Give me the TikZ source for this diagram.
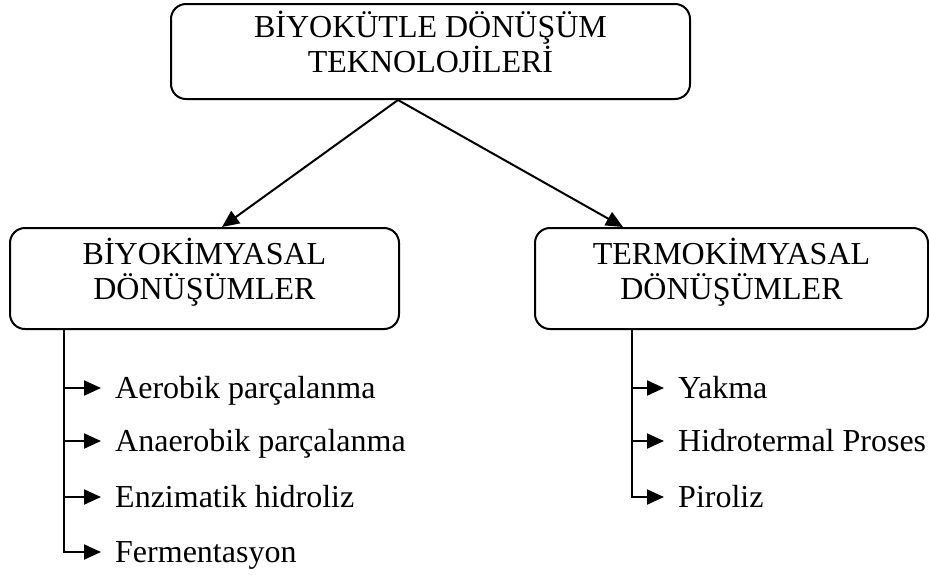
\documentclass[tikz,border=0pt]{standalone}
\usepackage{fontspec}
\setmainfont{Liberation Serif}
\usetikzlibrary{arrows.meta}
\begin{document}
\begin{tikzpicture}[x=1pt,y=-1pt,
    box/.style={draw=black,line width=2pt,rounded corners=15pt,align=center,inner sep=0pt,text height=61pt,text depth=20pt,font=\fontsize{32}{35}\selectfont},
    item/.style={anchor=west,inner ysep=0pt,inner xsep=14pt,text height=21pt,text depth=0pt,font=\fontsize{32}{35}\selectfont},
    link/.style={black,line width=2pt,-{Triangle[length=17pt,width=15pt]}}]
    \useasboundingbox (0,0) rectangle (929,574);
    \node [box,minimum width=519pt,minimum height=95pt] (top) at (430.5,51.5) {BİYOKÜTLE DÖNÜŞÜM\\TEKNOLOJİLERİ};
    \node [box,minimum width=389pt,minimum height=101pt] (bio) at (204.5,278.5) {BİYOKİMYASAL\\DÖNÜŞÜMLER};
    \node [box,minimum width=393pt,minimum height=101pt] (termo) at (731.5,278.5) {TERMOKİMYASAL\\DÖNÜŞÜMLER};
    \draw [link] ([xshift=-32.5pt]top.south) -- ([xshift=17.5pt]bio.north);
    \draw [link] ([xshift=-32.5pt]top.south) -- ([xshift=-108.5pt]termo.north);
    \coordinate (biofoot) at ([xshift=-140.5pt]bio.south);
    \node [item] (aerobik) at (101,388) {Aerobik parçalanma};
    \node [item] (anaerobik) at (101,441) {Anaerobik parçalanma};
    \node [item] (enzim) at (101,497) {Enzimatik hidroliz};
    \node [item] (ferment) at (101,552) {Fermentasyon};
    \draw [link] (biofoot |- aerobik.west) -- (aerobik.west);
    \draw [link] (biofoot |- anaerobik.west) -- (anaerobik.west);
    \draw [link] (biofoot |- enzim.west) -- (enzim.west);
    \draw [link] (biofoot) |- (ferment.west);
    \coordinate (termofoot) at ([xshift=-99.5pt]termo.south);
    \node [item] (yakma) at (664,388) {Yakma};
    \node [item] (hidro) at (664,441) {Hidrotermal Proses};
    \node [item] (piroliz) at (664,497) {Piroliz};
    \draw [link] (termofoot |- yakma.west) -- (yakma.west);
    \draw [link] (termofoot |- hidro.west) -- (hidro.west);
    \draw [link] (termofoot) |- (piroliz.west);
\end{tikzpicture}
\end{document}
